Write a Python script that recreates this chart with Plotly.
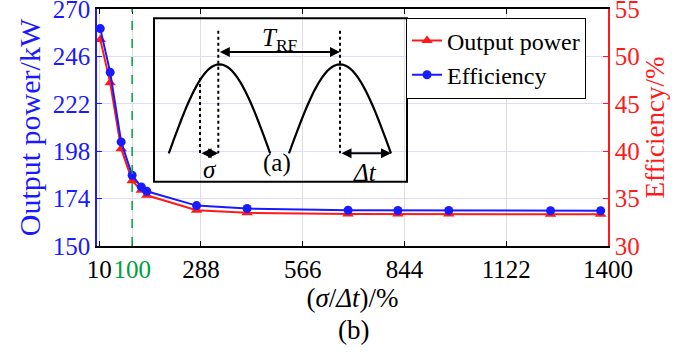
import numpy as np
import plotly.graph_objects as go

# ---- data ----
ratio = [13, 40, 70, 100, 125, 140, 276, 414, 690, 826, 965, 1243, 1380]
output_power = [254.5, 232.6, 199.3, 183.1, 178.2, 175.7, 168.1, 166.8, 166.2, 166.2, 166.2, 166.1, 166.1]
efficiency = [52.93, 48.32, 40.98, 37.46, 36.23, 35.77, 34.26, 33.95, 33.77, 33.75, 33.75, 33.73, 33.73]
x_ticks = [10, 100, 288, 566, 844, 1122, 1400]
x_ticktext = ["10", '<span style="color:#00a040">100</span>', "288", "566", "844", "1122", "1400"]
power_ticks = [150, 174, 198, 222, 246, 270]
eff_ticks = [30, 35, 40, 45, 50, 55]
marker_ratio = 100

FONT = "Liberation Serif"
W, H = 694, 364
ML, MR, MT, MB = 97, 86, 9, 118
PW, PH = W - ML - MR, H - MT - MB


def px(x):
    return (x - ML) / PW


def py(y):
    return (H - MB - y) / PH


fig = go.Figure()
fig.add_trace(go.Scatter(
    x=ratio, y=output_power, name="Output power", mode="lines+markers",
    line=dict(color="#ff1a1a", width=2),
    marker=dict(symbol="triangle-up", size=10, color="#ff1a1a"),
    yaxis="y"))
fig.add_trace(go.Scatter(
    x=ratio, y=efficiency, name="Efficiency", mode="lines+markers",
    line=dict(color="#1a1aff", width=2),
    marker=dict(symbol="circle", size=9, color="#1a1aff"),
    yaxis="y2"))

shapes = []
# green dashed reference line
shapes.append(dict(type="line", xref="x", yref="paper", x0=marker_ratio, x1=marker_ratio,
                   y0=0, y1=1, line=dict(color="#00a040", width=1.5, dash="dash")))
# inset box
shapes.append(dict(type="rect", xref="paper", yref="paper", x0=px(154), x1=px(407),
                   y0=py(181.7), y1=py(18.3), line=dict(color="black", width=2)))


def arch(cx, w, top, drop):
    t = np.linspace(-1, 1, 41)
    xs = cx + w * t
    ys = top + drop * (1 - np.cos(t * np.pi / 2))
    pts = ["%s%.4f,%.4f" % ("M" if i == 0 else "L", px(a), py(b)) for i, (a, b) in enumerate(zip(xs, ys))]
    return " ".join(pts)


for cx, w in [(219.5, 50.7), (340, 51)]:
    shapes.append(dict(type="path", xref="paper", yref="paper", path=arch(cx, w, 64.3, 89),
                       line=dict(color="black", width=2.2)))
# dotted guides
for x0, ya, yb in [(218.3, 30.7, 153.3), (200, 78, 153.3), (340, 30.7, 153.3)]:
    shapes.append(dict(type="line", xref="paper", yref="paper", x0=px(x0), x1=px(x0),
                       y0=py(ya), y1=py(yb), line=dict(color="black", width=2, dash="dot")))

annotations = []
# double arrows
for xa, xb, yy in [(218.3, 340, 52), (200, 218.3, 153.3), (340, 391, 153.3)]:
    annotations.append(dict(xref="paper", yref="paper", x=px(xb), y=py(yy), ax=-(xb - xa), ay=0,
                            axref="pixel", ayref="pixel", text="", showarrow=True,
                            arrowhead=2, startarrowhead=2, arrowside="end+start",
                            arrowsize=1, startarrowsize=1, arrowwidth=2, arrowcolor="black",
                            standoff=0, startstandoff=0))
for txt, xx, yy in [("<i>T</i><sub>RF</sub>", 280, 39), ("<i>σ</i>", 210, 170),
                    ("(a)", 277, 163), ("<i>Δt</i>", 365, 172)]:
    annotations.append(dict(xref="paper", yref="paper", x=px(xx), y=py(yy), text=txt,
                            showarrow=False, xanchor="center", yanchor="middle",
                            font=dict(family=FONT, size=25, color="black")))
# caption
annotations.append(dict(xref="paper", yref="paper", x=px(353), y=py(330), text="(b)",
                        showarrow=False, xanchor="center", yanchor="middle",
                        font=dict(family=FONT, size=27, color="black")))

fig.update_layout(
    width=W, height=H,
    margin=dict(l=ML, r=MR, t=MT, b=MB, autoexpand=False),
    paper_bgcolor="white", plot_bgcolor="white",
    font=dict(family=FONT, size=24, color="black"),
    showlegend=True,
    legend=dict(x=px(406), y=py(58), xanchor="left", yanchor="middle",
                bgcolor="white", bordercolor="black", borderwidth=1,
                font=dict(family=FONT, size=24, color="black"),
                itemwidth=30, tracegroupgap=0),
    xaxis=dict(range=[4, 1400], tickvals=x_ticks, ticktext=x_ticktext, tickangle=0,
               ticks="inside", ticklen=5, tickcolor="black", mirror="ticks",
               showline=True, linecolor="black", linewidth=1.5,
               showgrid=True, gridcolor="#dedede", gridwidth=1, zeroline=False,
               tickfont=dict(family=FONT, size=25, color="black"),
               title=dict(text="(<i>σ</i>/<i>Δt</i>)/%", standoff=5,
                          font=dict(family=FONT, size=27, color="black"))),
    yaxis=dict(range=[150, 270], tickvals=power_ticks, ticks="inside", ticklen=5,
               tickcolor="#1a1aff", showline=True, linecolor="#1a1aff", linewidth=1.5,
               showgrid=True, gridcolor="#dcdcff", gridwidth=1, zeroline=False,
               ticklabeloverflow="allow",
               tickfont=dict(family=FONT, size=25, color="#1a1aff"),
               title=dict(text="Output power/kW", standoff=3,
                          font=dict(family=FONT, size=30, color="#1a1aff"))),
    yaxis2=dict(range=[30, 55], tickvals=eff_ticks, overlaying="y", side="right",
                ticks="inside", ticklen=5, tickcolor="#ff1a1a", showline=True,
                linecolor="#ff1a1a", linewidth=1.5, showgrid=False, zeroline=False,
                ticklabeloverflow="allow",
                tickfont=dict(family=FONT, size=25, color="#ff1a1a"),
                title=dict(text="Efficiency/%", standoff=5,
                           font=dict(family=FONT, size=27, color="#ff1a1a"))),
    shapes=shapes,
    annotations=annotations,
)

fig.write_html("out.html", config={"displayModeBar": False},
               post_script="document.body.style.margin='0';")
